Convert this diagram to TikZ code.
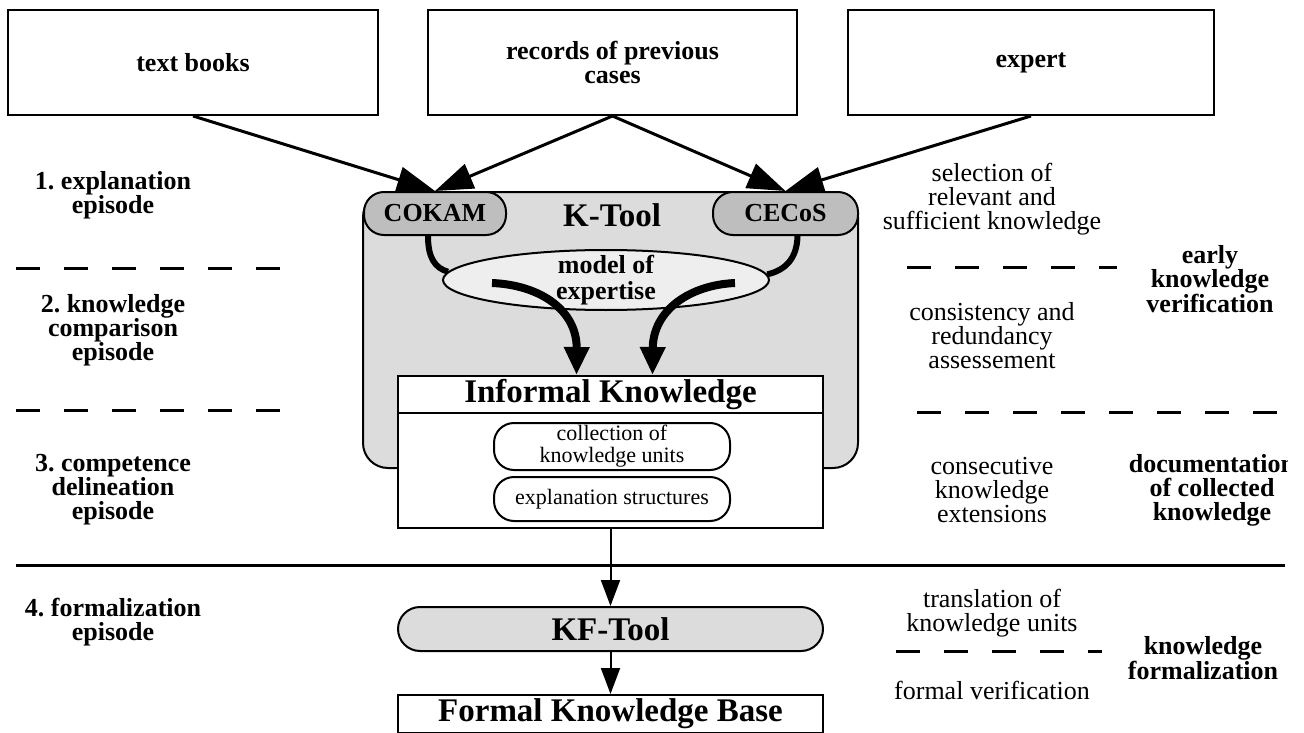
\documentclass[tikz,border=0pt]{standalone}
\usepackage{fontspec}
\setmainfont{Liberation Serif}
\usetikzlibrary{arrows.meta,shapes.geometric,calc}
\frenchspacing

\definecolor{ktoolgray}{HTML}{DCDCDC}
\definecolor{subtoolgray}{HTML}{BEBEBE}
\definecolor{modelgray}{HTML}{EEEEEE}

\newcommand{\txtfont}{\fontsize{26}{24}\selectfont}
\newcommand{\bigfont}{\fontsize{33}{30}\selectfont\bfseries}
\newcommand{\smallfont}{\fontsize{22}{22}\selectfont}

\tikzset{
  source/.style={draw, line width=2pt, minimum height=105pt, inner sep=0pt, align=center, font=\txtfont\bfseries},
  subtool/.style={draw, line width=2pt, fill=subtoolgray, rounded corners=20pt, minimum height=43pt, inner sep=0pt, font=\txtfont\bfseries},
  unitbox/.style={draw, line width=2pt, rounded corners=20pt, minimum width=236pt, inner sep=0pt, align=center, font=\smallfont},
  episode/.style={align=center, font=\txtfont\bfseries},
  activity/.style={align=center, font=\txtfont},
  goal/.style={align=center, font=\txtfont\bfseries},
  phaseline/.style={line width=3pt, dash pattern=on 24pt off 24pt},
  feed/.style={line width=3pt, -{Triangle[length=38pt,width=26pt]}},
  flow/.style={line width=8pt, -{Triangle[length=28pt,width=24pt]}},
  link/.style={line width=6pt},
  down/.style={line width=2pt, -{Triangle[length=26pt,width=19pt]}}
}

\begin{document}
\begin{tikzpicture}[x=1pt,y=-1pt]
    \useasboundingbox (0,0) rectangle (1304,733);
    \begin{scope}
    \clip (0,0) rectangle (1287,733);

    % Draw knowledge sources
    \node[source, minimum width=370pt] (books) at (193,62.5) {text books};
    \node[source, minimum width=369pt] (records) at (612.5,62.5) {records of previous\\cases};
    \node[source, minimum width=366pt] (expert) at (1031,62.5) {expert};

    % K-Tool frame with its two parts
    \node[draw, line width=2pt, fill=ktoolgray, rounded corners=25pt, minimum width=495pt, minimum height=276pt] (ktool) at (610.5,330) {};
    \node[font=\bigfont] (ktooltitle) at (612,215) {K-Tool};
    \node[subtool, minimum width=142pt] (cokam) at (435,213.5) {COKAM};
    \node[subtool, minimum width=145pt] (cecos) at (785.5,213.5) {CECoS};

    % Model of expertise
    \node[draw, ellipse, line width=2pt, fill=modelgray, minimum width=326pt, minimum height=60pt, inner sep=-4pt, align=center, font=\fontsize{26}{26}\selectfont\bfseries] (model) at (606,280) {model of\\expertise};

    % Informal knowledge
    \node[draw, line width=2pt, fill=white, minimum width=425pt, minimum height=37pt, inner sep=0pt, font=\bigfont] (infohead) at (610.5,394.5) {Informal Knowledge};
    \node[draw, line width=2pt, fill=white, minimum width=425pt, minimum height=115pt] (infobody) at (610.5,470.5) {};
    \node[unitbox, minimum height=47pt] (units) at (612,446.5) {collection of\\knowledge units};
    \node[unitbox, minimum height=44pt] (structures) at (612,499) {explanation structures};

    % Formalization
    \node[draw, line width=2pt, fill=ktoolgray, rounded corners=22pt, minimum width=425pt, minimum height=44pt, inner sep=0pt, font=\bigfont] (kftool) at (610.5,629) {KF-Tool};
    \node[draw, line width=2pt, minimum width=425pt, minimum height=38pt, inner sep=0pt, font=\bigfont] (fkb) at (610.5,714) {Formal Knowledge Base};

    % Episodes
    \node[episode] (ep1) at (113,195) {1. explanation\\episode};
    \node[episode] (ep2) at (113,330) {2. knowledge\\comparison\\episode};
    \node[episode] (ep3) at (113,490) {3. competence\\delineation\\episode};
    \node[episode] (ep4) at (113,622) {4. formalization\\episode};

    % Activities
    \node[activity] (selection) at (992,199) {selection of\\relevant and\\sufficient knowledge};
    \node[activity] (consistency) at (992,336) {consistency and\\redundancy\\assessement};
    \node[activity] (extensions) at (992,490) {consecutive\\knowledge\\extensions};
    \node[activity] (translation) at (992,613) {translation of\\knowledge units};
    \node[activity] (verification) at (992,690) {formal verification};

    % Goals
    \node[goal] (early) at (1210,279) {early\\knowledge\\verification};
    \node[goal] (documentation) at (1212,490) {documentation\\of collected\\knowledge};
    \node[goal] (formalization) at (1203,658) {knowledge\\formalization};

    % Phase separators
    \draw[phaseline] (16,268) -- (280,268);
    \draw[phaseline] (16,410) -- (280,410);
    \draw[phaseline] (907,267) -- (1117,267);
    \draw[phaseline] (917,412) -- (1277,412);
    \draw[phaseline] (896,651) -- (1102,651);
    \draw[line width=3pt] (16,565) -- (1285,565);

    % Sources feed the tools
    \draw[feed] (books.south) -- (cokam.north);
    \draw[feed] (records.south) -- (cokam.north);
    \draw[feed] (records.south) -- (cecos.north);
    \draw[feed] (expert.south) -- (cecos.north);

    % Tools feed the model
    \draw[link] ([xshift=-7pt]cokam.south) .. controls (428,258) and (435,268) .. (model.177);
    \draw[link] ([xshift=12pt]cecos.south) .. controls (797,258) and (786,270) .. (model.2);

    % Model to informal knowledge
    \coordinate (fromL) at (492,283);
    \coordinate (fromR) at (735,283);
    \draw[flow] (fromL) .. controls (540,285) and (577,310) .. ($(infohead.north)+(-34,0)$);
    \draw[flow] (fromR) .. controls (690,285) and (653,310) .. ($(infohead.north)+(42,0)$);

    % Down to the formal knowledge base
    \draw[down] (infobody.south) -- (kftool.north);
    \draw[down] (kftool.south) -- (fkb.north);
    \end{scope}
\end{tikzpicture}
\end{document}
